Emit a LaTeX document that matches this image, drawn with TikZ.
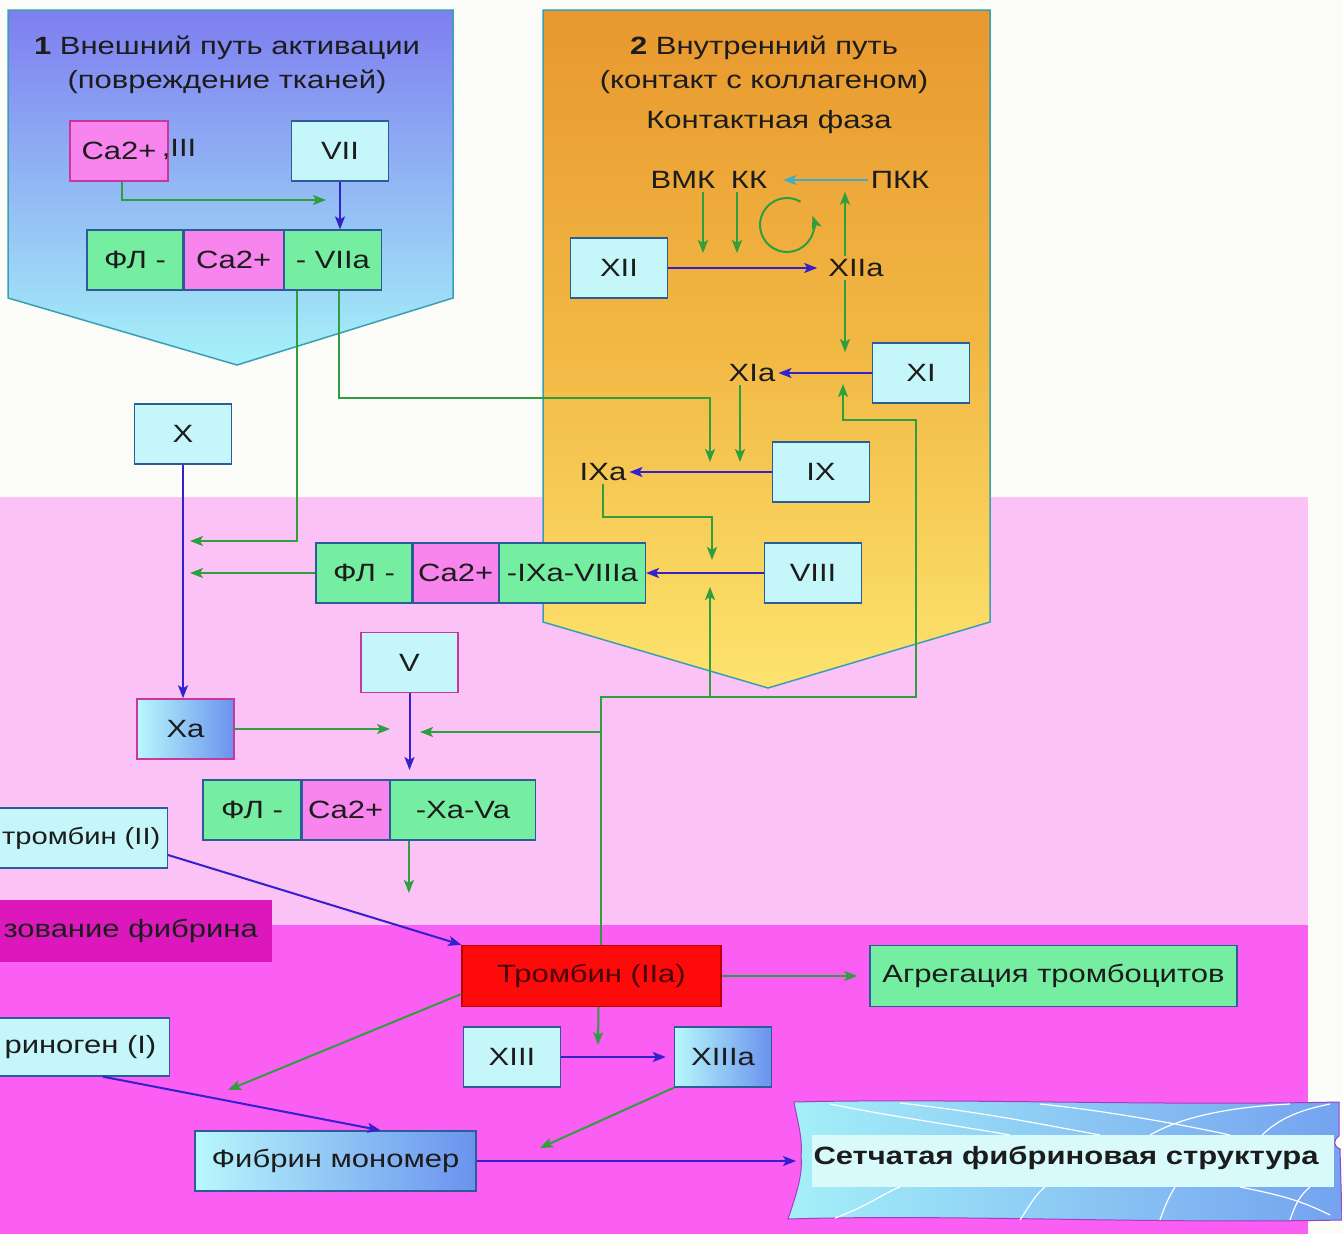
\documentclass[tikz,border=0pt]{standalone}
\usepackage{fontspec}
\setmainfont{Liberation Sans}[FakeStretch=1.24]
\usetikzlibrary{positioning,arrows.meta}

\definecolor{boxcyan}{HTML}{C4F6FA}
\definecolor{boxline}{HTML}{2A5C98}
\definecolor{pinkline}{HTML}{C8389A}
\definecolor{mint}{HTML}{76EEA2}
\definecolor{capink}{HTML}{F884EE}
\definecolor{arrgreen}{HTML}{2E9E3E}
\definecolor{arrblue}{HTML}{3420CC}
\definecolor{arrcyan}{HTML}{3CAEC6}
\definecolor{bgwhite}{HTML}{FBFBF7}
\definecolor{bandpink}{HTML}{FBC2F5}
\definecolor{bandmag}{HTML}{FA5EF2}
\definecolor{labmag}{HTML}{DC18BC}
\definecolor{pentline}{HTML}{3A9EB4}
\definecolor{blueTop}{HTML}{7E7EF0}
\definecolor{blueBot}{HTML}{A6F2F8}
\definecolor{orTop}{HTML}{E8982E}
\definecolor{orMid}{HTML}{F2B844}
\definecolor{orBot}{HTML}{FCE46E}
\definecolor{gradL}{HTML}{B8F8FC}
\definecolor{gradR}{HTML}{6A92EE}
\definecolor{thrRed}{HTML}{FF0A0A}
\definecolor{thrText}{HTML}{4A0606}
\definecolor{bannerL}{HTML}{A4F0F8}
\definecolor{bannerR}{HTML}{74A2F0}
\definecolor{bannerLight}{HTML}{D8FAFA}
\definecolor{bannerLine}{HTML}{A040C0}
\definecolor{txt}{HTML}{1C1C1C}

\begin{document}
\begin{tikzpicture}[x=1pt, y=-1pt, >={Stealth[length=13pt,width=10pt,inset=3pt]},
  font=\fontsize{25}{29}\selectfont, text=txt]
  \tikzstyle{fac} = [rectangle, draw=boxline, fill=boxcyan, line width=1.4pt,
  minimum width=97pt, minimum height=60pt, inner sep=0pt]
  \tikzstyle{gradfac} = [fac, left color=gradL, right color=gradR]
  \tikzstyle{seg} = [rectangle, draw=boxline, line width=1.2pt,
  minimum height=60pt, inner sep=0pt]
  \tikzstyle{lbl} = [inner sep=3pt]
  \tikzstyle{ttl} = [align=center, font=\fontsize{25}{34}\selectfont]
  \tikzstyle{garrow} = [arrgreen, line width=2pt, ->]
  \tikzstyle{barrow} = [arrblue, line width=2pt, ->]
  \tikzstyle{gline} = [garrow, draw]
  \tikzstyle{bline} = [barrow, draw]

  \useasboundingbox (0,0) rectangle (1342,1234);

  % Background bands
  \fill[bgwhite] (0,0) rectangle (1342,1234);
  \fill[bandpink] (0,497) rectangle (1308,925);
  \fill[bandmag] (0,925) rectangle (1308,1234);

  % Pathway panels
  \path[draw=pentline, line width=1.5pt, top color=blueTop, bottom color=blueBot]
    (8,10) -- (453,10) -- (453,298) -- (237,365) -- (8,298) -- cycle;
  \path[draw=pentline, line width=1.5pt, top color=orTop, bottom color=orBot, middle color=orMid]
    (543,10) -- (990,10) -- (990,622) -- (768,688) -- (543,622) -- cycle;

  % Fibrin net banner
  \path[draw=bannerLine, line width=1pt, left color=bannerL, right color=bannerR]
    (794,1102) .. controls (950,1098) and (1150,1106) .. (1339,1102)
    -- (1339,1136) .. controls (1333,1140) and (1333,1146) .. (1340,1149)
    -- (1342,1220) .. controls (1150,1224) and (950,1214) .. (788,1219)
    .. controls (796,1195) and (803,1175) .. (801,1156)
    .. controls (803,1138) and (797,1120) .. (794,1102) -- cycle;
  \fill[bannerLight] (812,1135) rectangle (1334,1187);
  \draw[white, line width=1.2pt]
    (830,1104) .. controls (900,1118) and (960,1126) .. (1010,1135)
    (900,1103) .. controls (980,1112) and (1030,1122) .. (1100,1135)
    (1040,1104) .. controls (1100,1110) and (1180,1124) .. (1230,1135)
    (1150,1135) .. controls (1190,1112) and (1250,1106) .. (1290,1104)
    (1262,1135) .. controls (1280,1118) and (1300,1110) .. (1330,1104)
    (835,1218) .. controls (870,1205) and (880,1195) .. (900,1187)
    (1020,1220) .. controls (1030,1205) and (1035,1195) .. (1045,1187)
    (1160,1220) .. controls (1165,1205) and (1170,1195) .. (1175,1187)
    (1240,1187) .. controls (1280,1195) and (1300,1200) .. (1330,1215)
    (1290,1220) .. controls (1295,1205) and (1300,1195) .. (1310,1187);

  % Define nodes
  \node[ttl] (ext) at (227,65) {\textbf{1} Внешний путь активации\\(повреждение тканей)};
  \node[fac, fill=capink, draw=pinkline, minimum width=98pt] (caIII) at (119,151) {Ca2+\hspace{6pt}};
  \node[lbl] (iii) at (179,149) {,III};
  \node[fac] (vii) at (340,151) {VII};
  \node[seg, fill=mint, minimum width=96pt] (flA) at (135,260) {ФЛ -};
  \node[seg, fill=capink, minimum width=99pt, right=0pt of flA] (caA) {Ca2+};
  \node[seg, fill=mint, minimum width=97pt, right=0pt of caA] (vIIa) {- VIIa};

  \node[ttl] (intr) at (764,65) {\textbf{2} Внутренний путь\\(контакт с коллагеном)};
  \node[ttl] (cph) at (769,122) {Контактная фаза};
  \node[lbl] (vmk) at (683,180) {ВМК};
  \node[lbl] (kk) at (749,180) {КК};
  \node[lbl] (pkk) at (900,180) {ПКК};
  \node[fac] (xii) at (619,268) {XII};
  \node[lbl] (xIIa) at (856,268) {XIIa};
  \node[fac] (xi) at (921,373) {XI};
  \node[lbl] (xIa) at (752,373) {XIa};
  \node[fac] (ix) at (821,472) {IX};
  \node[lbl] (iXa) at (603,472) {IXa};
  \node[fac] (viii) at (813,573) {VIII};
  \node[seg, fill=mint, minimum width=96pt] (flB) at (364,573) {ФЛ -};
  \node[seg, fill=capink, minimum width=85pt, right=0pt of flB] (caB) {Ca2+};
  \node[seg, fill=mint, minimum width=146pt, right=0pt of caB] (ixVIIIa) {-IXa-VIIIa};

  \node[fac] (x) at (183,434) {X};
  \node[gradfac, draw=pinkline] (xa) at (185.5,729) {Xa};
  \node[fac, draw=pinkline] (v) at (409.5,662.5) {V};
  \node[seg, fill=mint, minimum width=98pt] (flC) at (252,810) {ФЛ -};
  \node[seg, fill=capink, minimum width=87pt, right=0pt of flC] (caC) {Ca2+};
  \node[seg, fill=mint, minimum width=145pt, right=0pt of caC] (xaVa) {-Xa-Va};

  \node[fac, anchor=east, inner xsep=7pt, font=\fontsize{23.5}{28}\selectfont] (proth) at (168,838) {тромбин (II)};
  \node[fill=labmag, anchor=east, inner xsep=14pt, minimum height=62pt] (form) at (272,931) {зование фибрина};
  \node[fac, fill=thrRed, draw=red!75!black, minimum width=259pt, minimum height=61pt,
    text=thrText] (thr) at (591.5,976) {Тромбин (IIa)};
  \node[fac, fill=mint, minimum width=367pt, minimum height=61pt] (agg) at (1053.5,976) {Агрегация тромбоцитов};
  \node[fac] (xiii) at (512,1057) {XIII};
  \node[gradfac] (xiiia) at (723,1057) {XIIIa};
  \node[fac, anchor=east, inner xsep=13pt, minimum height=58pt] (fbg) at (170,1047) {риноген (I)};
  \node[gradfac, minimum width=281pt] (mon) at (335.5,1161) {Фибрин мономер};
  \node[font=\fontsize{25}{29}\selectfont\bfseries] (net) at (1066,1158) {Сетчатая фибриновая структура};

  % Free ends and bends
  \coordinate (jCa) at (326,200);
  \coordinate (xIn1) at (190,541);
  \coordinate (xIn2) at (190,573);
  \coordinate (bnd1) at (710,398);
  \coordinate (ixIn1) at (710,462);
  \coordinate (ixIn2) at (740,462);
  \coordinate (kIn1) at (703,253);
  \coordinate (kIn2) at (737,253);
  \coordinate (loopc) at (787,225);
  \coordinate (xiIn1) at (845,352);
  \coordinate (xiIn2) at (843,384);
  \coordinate (bnd2) at (712,517);
  \coordinate (viiiIn1) at (712,560);
  \coordinate (viiiIn2) at (710,587);
  \coordinate (bnd3) at (916,697);
  \coordinate (bnd4) at (843,420);
  \coordinate (bnd5) at (710,697);
  \coordinate (bnd6) at (600,732);
  \coordinate (vaIn1) at (390,732);
  \coordinate (vaIn2) at (420,732);
  \coordinate (xaVaIn) at (409,770);
  \coordinate (xaVaOut) at ([xshift=-54pt]xaVa.south);
  \coordinate (thrIn) at (406,893);
  \coordinate (xiiiaIn) at (598,1045);
  \coordinate (monIn1) at (228,1090);
  \coordinate (monIn2) at (540,1148);
  \coordinate (netIn) at (796,1157);

  % Green (activating) arrows
  \draw[gline] ([xshift=3pt]caIII.south) |- (jCa);
  \draw[gline] ([xshift=-36pt]vIIa.south) |- (xIn1);
  \draw[gline] ([xshift=6pt]vIIa.south) |- (bnd1) -- (ixIn1);
  \draw[gline] (iXa.south) |- (bnd2) -- (viiiIn1);
  \draw[gline] ([xshift=9pt]thr.north) |- (bnd3) |- (bnd4) -- (xiIn2);
  \draw[gline] ([shift={(-60:27)}]loopc) arc[start angle=-60, end angle=-380, radius=27];
  \path
    [garrow] ([xshift=20pt]vmk.south) edge (kIn1)
    [garrow] ([xshift=-12pt]kk.south) edge (kIn2)
    [garrow] ([xshift=-11pt]xIIa.north) edge ([xshift=-11pt]xIIa.north |- pkk.south)
    [garrow] ([xshift=-11pt]xIIa.south) edge (xiIn1)
    [garrow] ([xshift=-12pt]xIa.south) edge (ixIn2)
    [garrow] (flB.west) edge (xIn2)
    [garrow] (bnd5) edge (viiiIn2)
    [garrow] (bnd6) edge (vaIn2)
    [garrow] (xa.east) edge (xa.east -| vaIn1)
    [garrow] (xaVaOut) edge (xaVaOut |- thrIn)
    [garrow] (thr.east) edge [shorten >=12pt] (agg.west)
    [garrow] ([xshift=7pt]thr.south) edge (xiiiaIn)
    [garrow] (xiiia.south west) edge (monIn2)
    [garrow] ([yshift=-18pt]thr.west) edge (monIn1);

  % Blue (conversion) arrows
  \path
    [barrow] (vii.south) edge (vii.south |- vIIa.north)
    [barrow] (xii.east) edge [shorten >=8pt] (xIIa.west)
    [barrow] (xi.west) edge (xIa.east)
    [barrow] (ix.west) edge (iXa.east)
    [barrow] (viii.west) edge (ixVIIIa.east)
    [barrow] (x.south) edge (x.south |- xa.north)
    [barrow] (v.south) edge (v.south |- xaVaIn)
    [barrow] ([yshift=-17pt]proth.east) edge (thr.north west)
    [barrow] (xiii.east) edge [shorten >=8pt] (xiiia.west)
    [barrow] ([xshift=-67pt]fbg.south east) edge ([xshift=45pt]mon.north)
    [barrow] (mon.east) edge (mon.east -| netIn);
  \draw[draw=arrcyan, line width=2pt, ->] (pkk.west) -- ([xshift=13pt]kk.east);
\end{tikzpicture}
\end{document}
